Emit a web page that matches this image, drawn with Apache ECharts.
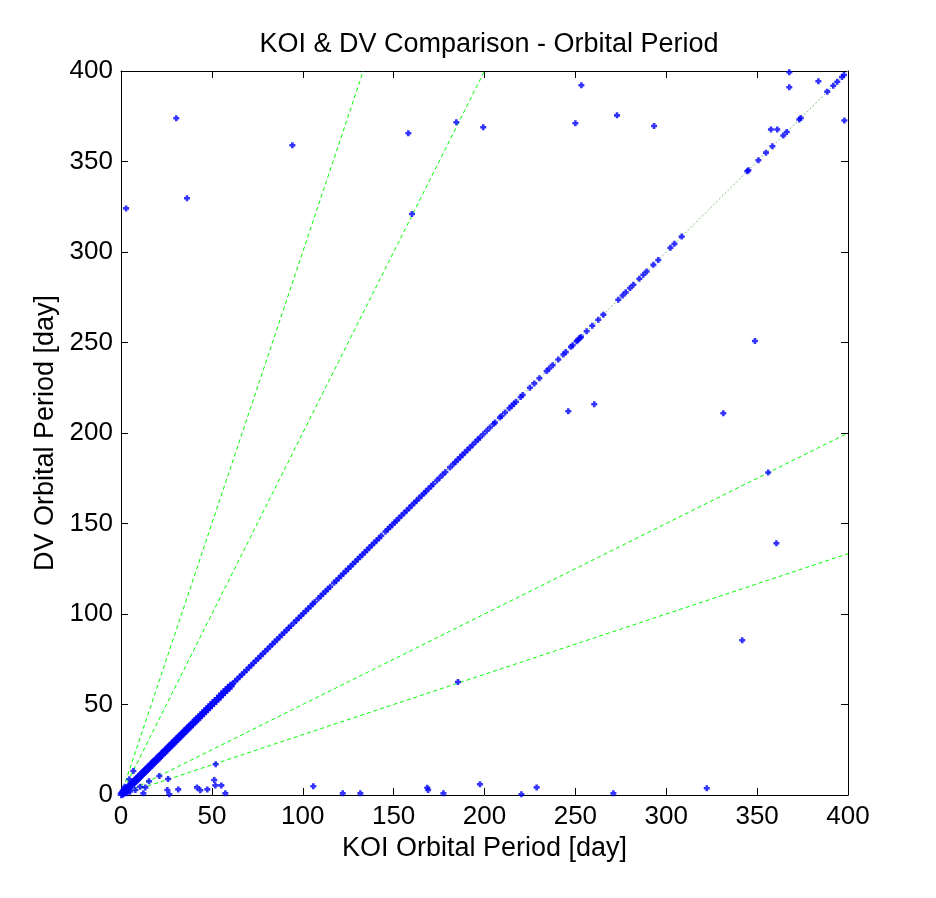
<!DOCTYPE html>
<html>
<head>
<meta charset="utf-8">
<title>KOI & DV Comparison - Orbital Period</title>
<script src="https://cdn.jsdelivr.net/npm/echarts@6/dist/echarts.min.js"></script>
<style>
  html, body { margin: 0; padding: 0; background: #fff; }
  #chart { width: 936px; height: 898px; }
</style>
</head>
<body>
<div id="chart"></div>
<script>
// axis ticks
var xTicks = [0, 50, 100, 150, 200, 250, 300, 350, 400];
var yTicks = [0, 50, 100, 150, 200, 250, 300, 350, 400];

// KOIs where the DV period matches the KOI period (dense run along the diagonal)
var matchDense = [0.4, 0.9, 1.3, 1.8, 2.2, 2.7, 3.1, 3.5, 4.0, 4.6, 5.1, 5.5, 6.0, 6.6, 7.1, 7.6, 8.2, 8.7,
    9.3, 9.8, 10.4, 11.0, 11.5, 12.1, 12.7, 13.3, 13.8, 14.4, 15.0, 15.6, 16.3, 16.9, 17.5, 18.2, 18.8,
    19.5, 20.2, 20.9, 21.6, 22.3, 23.0, 23.8, 24.5, 25.2, 26.0, 26.8, 27.6, 28.4, 29.2, 30.0, 30.9, 31.8,
    32.6, 33.5, 34.4, 35.3, 36.2, 37.1, 38.0, 39.0, 40.0, 41.0, 42.0, 43.0, 44.1, 45.2, 46.3, 47.4, 48.5,
    49.6, 50.8, 52.0, 53.2, 54.4, 55.6, 56.8, 58.0, 59.2, 60.4];

// matching periods further out
var matchSparse = [61.5, 62.8, 64.0, 65.3, 66.5, 67.8, 69.1, 70.4, 71.6, 72.9, 74.2, 75.5, 76.8, 78.1, 79.4,
    80.7, 82.0, 83.3, 84.6, 85.9, 87.2, 88.5, 89.8, 91.1, 92.4, 93.5, 95.2, 96.5, 97.8, 99.1, 100.4, 101.7,
    103.0, 104.3, 105.6, 106.6, 108.6, 109.9, 111.2, 112.5, 113.8, 115.1, 117.2, 118.5, 119.8, 121.1, 122.4,
    123.7, 125.0, 126.3, 127.6, 128.9, 130.2, 131.5, 132.8, 134.1, 135.4, 136.7, 138.0, 139.3, 140.6, 141.9,
    143.2, 145.5, 146.8, 148.0, 149.3, 150.6, 151.6, 153.0, 154.4, 155.8, 157.2, 158.6, 160.0, 161.4, 162.6,
    164.0, 165.4, 166.8, 167.8, 169.2, 170.6, 171.8, 173.8, 175.3, 177.0, 178.5, 181.0, 182.8, 184.0, 185.3,
    186.6, 187.9, 189.2, 190.6, 192.0, 193.4, 195.0, 196.4, 197.5, 199.3, 201.2, 203.0, 205.0, 205.8, 208.5,
    209.4, 211.3, 213.7, 215.0, 216.2, 217.3, 219.9, 221.0, 225.0, 227.4, 230.2, 234.2, 235.6, 237.5, 240.6,
    243.4, 244.7, 247.6, 248.5, 250.7, 251.3, 252.5, 253.1, 256.2, 259.3, 262.6, 265.4, 273.6, 276.0, 277.7,
    280.1, 281.9, 285.2, 287.4, 289.2, 292.9, 295.6, 302.3, 304.5, 308.5, 344.6, 345.2, 350.7, 354.9, 358.4,
    364.4, 366.3, 373.2, 374.0, 388.6, 391.9, 394.1, 396.7, 397.8];

// mismatched KOIs
var koiOff = [30.4, 36.3, 2.8, 94.3, 158.1, 160.1, 184.5, 199.3, 253.3, 250.0, 272.9, 293.3, 367.7, 367.7,
    383.7, 398.0, 357.6, 361.1, 348.8, 246.1, 260.4, 331.4, 356.1, 360.6, 341.8, 185.4, 197.5, 220.3, 228.7,
    270.9, 322.3, 168.5, 169.0, 177.4, 131.7, 122.0, 105.8, 57.4, 55.2, 51.9, 51.3, 52.1, 47.5, 43.6, 41.8,
    31.5, 26.6, 25.5, 25.9, 21.1, 15.4, 13.4, 10.5, 12.3, 6.8, 4.6, 2.8, 7.9, 1.0, 2.0, 3.5, 0.8, 5.0];
var dvOff = [373.9, 329.7, 324.1, 359.0, 365.6, 321.0, 371.7, 368.9, 392.1, 371.1, 375.5, 369.6, 399.3, 391.0,
    394.3, 372.7, 367.7, 367.7, 250.8, 212.0, 215.9, 210.9, 178.2, 139.1, 85.5, 62.4, 5.9, 0.4, 4.2,
    0.9, 3.7, 4.0, 2.8, 0.9, 0.9, 0.9, 4.8, 0.9, 5.3, 5.3, 8.3, 17.0, 3.1, 2.6, 4.2,
    3.1, 0.4, 2.8, 8.8, 10.5, 7.6, 4.2, 4.6, 0.9, 13.3, 8.7, 2.8, 2.8, 2.5, 4.5, 1.0, 1.6, 2.0];

// reference lines DV = ratio * KOI, as end points
var ratioNames = ['1:1', '2:1', '3:1', '1:2', '1:3'];
var ratioEnds = [[400, 400], [200, 400], [133.33, 400], [400, 200], [400, 133.33]];

var FONT = '"Liberation Sans", Arial, Helvetica, sans-serif';
// chunky plus, like the matlab '+' at this resolution
var plusMark = 'path://M2,0h3v2h2v3h-2v2h-3v-2h-2v-3h2z';

var chart = echarts.init(document.getElementById('chart'));

function pairs(a, b) {
    var out = [];
    for (var i = 0; i < a.length; i++) out.push([a[i], b[i]]);
    return out;
}

var series = [];
for (var i = 0; i < ratioEnds.length; i++) {
    series.push({
        name: ratioNames[i],
        type: 'line',
        data: [[0, 0], ratioEnds[i]],
        symbol: 'none',
        silent: true,
        lineStyle: {color: i === 0 ? '#7fbf7f' : '#00ff00', width: 1, type: i === 0 ? [2, 2] : [4, 3]},
        z: 1
    });
}
series.push({
    name: 'match dense',
    type: 'scatter',
    data: pairs(matchDense, matchDense),
    symbol: plusMark,
    symbolSize: 8,
    itemStyle: {color: '#0000ff'},
    z: 3
});
series.push({
    name: 'match',
    type: 'scatter',
    data: pairs(matchSparse, matchSparse),
    symbol: plusMark,
    symbolSize: 6,
    itemStyle: {color: '#0000ff'},
    z: 3
});
series.push({
    name: 'mismatch',
    type: 'scatter',
    data: pairs(koiOff, dvOff),
    symbol: plusMark,
    symbolSize: 6,
    itemStyle: {color: '#0000ff'},
    z: 3
});

var axisCommon = {
    type: 'value',
    min: 0,
    max: 400,
    interval: 50,
    splitLine: {show: false},
    axisLine: {show: true, onZero: false, lineStyle: {color: '#000', width: 1}},
    axisTick: {show: true, inside: true, length: 7, lineStyle: {color: '#000'}}
};

var option = {
    animation: false,
    backgroundColor: '#fff',
    title: {
        text: 'KOI & DV Comparison - Orbital Period',
        left: 484,
        top: 26,
        textAlign: 'center',
        textStyle: {fontFamily: FONT, fontSize: 27, fontWeight: 'normal', color: '#000'}
    },
    grid: {left: 121, right: 88, top: 71, bottom: 103, containLabel: false},
    xAxis: [
        Object.assign({}, axisCommon, {
            position: 'bottom',
            name: 'KOI Orbital Period [day]',
            nameLocation: 'middle',
            nameGap: 37,
            nameTextStyle: {fontFamily: FONT, fontSize: 27, color: '#000', verticalAlign: 'top'},
            axisLabel: {show: true, margin: 9, fontFamily: FONT, fontSize: 26, color: '#000',
                formatter: function (v) { return xTicks.indexOf(v) >= 0 ? String(v) : ''; }}
        }),
        Object.assign({}, axisCommon, {position: 'top', axisLabel: {show: false}})
    ],
    yAxis: [
        Object.assign({}, axisCommon, {
            position: 'left',
            name: 'DV Orbital Period [day]',
            nameLocation: 'middle',
            nameGap: 50,
            nameTextStyle: {fontFamily: FONT, fontSize: 27, color: '#000'},
            axisLabel: {show: true, margin: 8, fontFamily: FONT, fontSize: 26, color: '#000',
                formatter: function (v) { return yTicks.indexOf(v) >= 0 ? String(v) : ''; }}
        }),
        Object.assign({}, axisCommon, {position: 'right', axisLabel: {show: false}})
    ],
    series: series
};

chart.setOption(option);
</script>
</body>
</html>
